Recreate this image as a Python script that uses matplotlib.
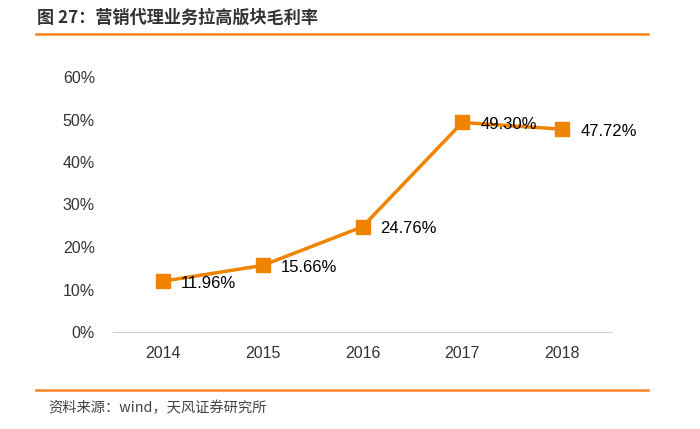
import matplotlib.pyplot as plt
from matplotlib.lines import Line2D

plt.rcParams['font.family'] = ['Liberation Sans', 'Noto Sans CJK SC', 'DejaVu Sans']

years = ['2014', '2015', '2016', '2017', '2018']
margin = [11.96, 15.66, 24.76, 49.30, 47.72]
labels = ['11.96%', '15.66%', '24.76%', '49.30%', '47.72%']

orange = '#F08300'

fig = plt.figure(figsize=(7, 4.29), dpi=100)
ax = fig.add_axes([113 / 700, 1 - 332 / 429, (612 - 113) / 700, (332 - 77) / 429])

x = list(range(len(years)))
ax.plot(x, margin, color=orange, lw=2.5, marker='s', ms=10, mfc=orange, mec=orange, zorder=3)
for xi, v, t in zip(x, margin, labels):
    ax.annotate(t, (xi, v), xytext=(13, -1.5), textcoords='offset points',
                fontsize=12, va='center', ha='left', color='black', zorder=4)

ax.set_xlim(-0.5, 4.5)
ax.set_ylim(0, 60)
ax.set_yticks(range(0, 61, 10))
ax.set_yticklabels([f'{v}%' for v in range(0, 61, 10)])
ax.set_xticks(x)
ax.set_xticklabels(years)
ax.tick_params(axis='both', length=0, labelsize=11.5, colors='#333333')
ax.tick_params(axis='y', pad=13)
ax.tick_params(axis='x', pad=10)
for s in ['top', 'right', 'left']:
    ax.spines[s].set_visible(False)
ax.spines['bottom'].set_color('#d0d0d0')

# header and footer
fig.text(37 / 700, 1 - 18 / 429, '图 27：营销代理业务拉高版块毛利率', fontsize=12.3,
         fontweight='bold', color='#333333', va='center', ha='left',
         family=['Noto Sans CJK SC', 'DejaVu Sans'])
fig.add_artist(Line2D([36 / 700, 648 / 700], [1 - 34 / 429, 1 - 34 / 429], color='#F5821F', lw=1.8))
fig.add_artist(Line2D([36 / 700, 648 / 700], [1 - 390 / 429, 1 - 390 / 429], color='#F5821F', lw=1.8))
fig.text(48 / 700, 1 - 408 / 429, '资料来源：wind，天风证券研究所', fontsize=10.3,
         color='#444444', va='center', ha='left',
         family=['Noto Sans CJK SC', 'DejaVu Sans'])

fig.savefig('out.png', dpi=100)
